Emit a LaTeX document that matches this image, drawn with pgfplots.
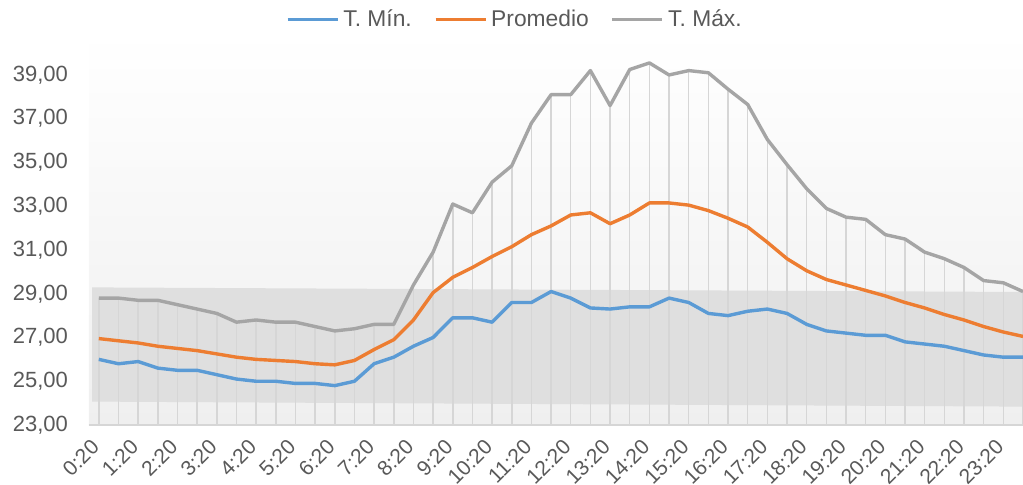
\documentclass[border=0pt]{standalone}
\usepackage{fontspec}
\setmainfont{Liberation Sans}
\usepackage{pgfplots}
\pgfplotsset{compat=1.18}
\usepackage{pgfplotstable}

\definecolor{cmin}{HTML}{5B9BD5}
\definecolor{cavg}{HTML}{ED7D31}
\definecolor{cmax}{HTML}{A5A5A5}
\definecolor{dropc}{HTML}{D6D6D6}
\definecolor{bandc}{HTML}{DFDFDF}
\definecolor{bgbot}{HTML}{EFEFEF}
\definecolor{txt}{HTML}{595959}

% i = half-hour slot from 0:20 to 23:50
\pgfplotstableread{
i  tmin  prom   tmax
0  26.0  26.95  28.8
1  25.8  26.85  28.8
2  25.9  26.75  28.7
3  25.6  26.6   28.7
4  25.5  26.5   28.5
5  25.5  26.4   28.3
6  25.3  26.25  28.1
7  25.1  26.1   27.7
8  25.0  26.0   27.8
9  25.0  25.95  27.7
10 24.9  25.9   27.7
11 24.9  25.8   27.5
12 24.8  25.75  27.3
13 25.0  25.95  27.4
14 25.8  26.45  27.6
15 26.1  26.9   27.6
16 26.6  27.8   29.4
17 27.0  29.05  30.9
18 27.9  29.75  33.1
19 27.9  30.2   32.7
20 27.7  30.7   34.1
21 28.6  31.15  34.85
22 28.6  31.7   36.8
23 29.1  32.1   38.1
24 28.8  32.6   38.1
25 28.35 32.7   39.2
26 28.3  32.2   37.6
27 28.4  32.6   39.25
28 28.4  33.15  39.55
29 28.8  33.15  39.0
30 28.6  33.05  39.2
31 28.1  32.8   39.1
32 28.0  32.45  38.35
33 28.2  32.05  37.65
34 28.3  31.35  36.05
35 28.1  30.6   34.9
36 27.6  30.05  33.8
37 27.3  29.65  32.9
38 27.2  29.4   32.5
39 27.1  29.15  32.4
40 27.1  28.9   31.7
41 26.8  28.6   31.5
42 26.7  28.35  30.9
43 26.6  28.05  30.6
44 26.4  27.8   30.2
45 26.2  27.5   29.6
46 26.1  27.25  29.5
47 26.1  27.05  29.1
}\temps

\begin{document}
\begin{tikzpicture}
\path[use as bounding box] (-44.5pt,-29.5pt) rectangle (467pt,212.5pt);
\begin{axis}[
  at={(0,0)}, anchor=south west,
  scale only axis,
  width=467pt, height=196.9pt,
  xmin=-0.5, xmax=47,
  ymin=23, ymax=41,
  axis line style={draw=none},
  axis background/.style={top color=white, bottom color=bgbot},
  major tick length=0pt,
  ytick={23,25,...,39},
  xtick={0,2,...,46},
  xticklabels={0:20,1:20,2:20,3:20,4:20,5:20,6:20,7:20,8:20,9:20,10:20,11:20,12:20,13:20,14:20,15:20,16:20,17:20,18:20,19:20,20:20,21:20,22:20,23:20},
  tick label style={text=txt},
  xticklabel style={font=\fontsize{10.5}{12}\selectfont, rotate=45, anchor=east, inner sep=1pt, xshift=-6.6pt, yshift=-5.2pt},
  yticklabel style={font=\fontsize{11}{13}\selectfont, xshift=-7pt},
  /pgf/number format/fixed,
  /pgf/number format/precision=2,
  /pgf/number format/zerofill,
  /pgf/number format/use comma,
  /pgf/number format/assume math mode=true,
  legend columns=3,
  legend style={at={(0.457,1.03)}, anchor=center, draw=none, fill=none,
    font=\fontsize{11.4}{13}\selectfont, text=txt,
    /tikz/every even column/.append style={column sep=9pt}},
  legend image code/.code={\draw[#1] (0pt,0pt) -- (25pt,0pt);},
]
\addplot[fill=bandc, draw=none, forget plot] coordinates {(-0.34,24.07) (47,23.84) (47,29.08) (-0.34,29.29)} -- cycle;
\draw[dropc, line width=0.6pt] (rel axis cs:0,0) -- (rel axis cs:1,0);
\addplot[ycomb, dropc, line width=0.75pt, forget plot] table[x=i, y=tmax] {\temps};
\addplot[cmin, line width=1.7pt, line join=round] table[x=i, y=tmin] {\temps};
\addlegendentry{T. Mín.}
\addplot[cavg, line width=1.7pt, line join=round] table[x=i, y=prom] {\temps};
\addlegendentry{Promedio}
\addplot[cmax, line width=1.7pt, line join=round] table[x=i, y=tmax] {\temps};
\addlegendentry{T. Máx.}
\end{axis}
\end{tikzpicture}
\end{document}
